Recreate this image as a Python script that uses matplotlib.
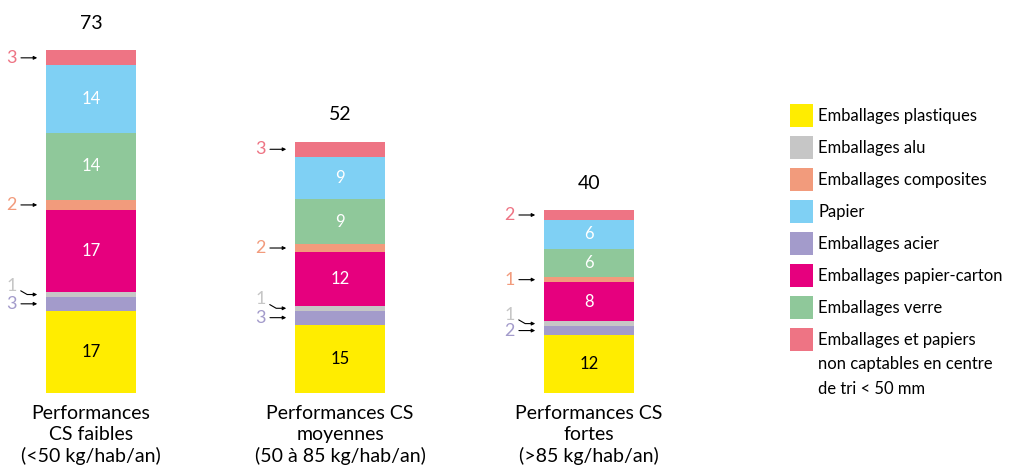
import matplotlib.pyplot as plt
from matplotlib.patches import Rectangle

plt.rcParams['font.family'] = ['Lato', 'DejaVu Sans']

categories = ['Performances\nCS faibles\n(<50 kg/hab/an)',
              'Performances CS\nmoyennes\n(50 à 85 kg/hab/an)',
              'Performances CS\nfortes\n(>85 kg/hab/an)']
totals = [73, 52, 40]

# stack order, bottom to top
materials = ['Emballages plastiques', 'Emballages acier', 'Emballages alu',
             'Emballages papier-carton', 'Emballages composites', 'Emballages verre',
             'Papier', 'Emballages et papiers\nnon captables en centre\nde tri < 50 mm']
colors = ['#FFED00', '#A39BCB', '#C6C6C6', '#E6007E', '#F29B7C', '#8FC89A',
          '#7FD0F4', '#EE7484']

# drawn heights (kg/hab/an) and the values printed on the chart
heights = [
    [17.5, 2.9, 1.07, 17.5, 2.13, 14.3, 14.4, 3.2],
    [14.5, 3.0, 1.0, 11.4, 1.9, 9.4, 9.1, 3.2],
    [12.3, 1.9, 1.07, 8.3, 1.07, 6.0, 6.2, 2.1],
]
shown = [
    [17, 3, 1, 17, 2, 14, 14, 3],
    [15, 3, 1, 12, 2, 9, 9, 3],
    [12, 2, 1, 8, 1, 6, 6, 2],
]

legend_order = [0, 2, 4, 6, 1, 3, 5, 7]
inside = [0, 3, 5, 6]      # labels drawn in the bar, the others go left with an arrow

fig = plt.figure(figsize=(10.19, 4.70), dpi=100)
ax = fig.add_axes([0, 77.3 / 470, 1, 375.2 / 470])
ax.set_xlim(-0.3655, -0.3655 + 1019 / 249)
ax.set_ylim(0, 80)
ax.axis('off')

width = 0.365
arrow = dict(arrowstyle='-|>', color='black', lw=0.8, mutation_scale=5, shrinkB=6)
xs = range(len(categories))
for b, x in enumerate(xs):
    bottom = 0
    for i, h in enumerate(heights[b]):
        ax.bar(x, h, width=width, bottom=bottom, color=colors[i], linewidth=0)
        mid = bottom + h / 2
        if i in inside:
            ax.text(x, mid, str(shown[b][i]), ha='center', va='center', fontsize=12,
                    color='black' if i == 0 else 'white')
        elif i == 2:
            ax.annotate(str(shown[b][i]), xy=(x - width / 2, mid),
                        xytext=(-34, 9), textcoords='offset pixels',
                        ha='center', va='center', fontsize=13, color=colors[i],
                        annotation_clip=False,
                        arrowprops=dict(arrow, shrinkA=1,
                                        connectionstyle='angle,angleA=-30,angleB=180,rad=0'))
        else:
            ax.annotate(str(shown[b][i]), xy=(x - width / 2, mid),
                        xytext=(-34, 0), textcoords='offset pixels',
                        ha='center', va='center', fontsize=13, color=colors[i],
                        annotation_clip=False, arrowprops=dict(arrow, shrinkA=1))
        bottom += h
    ax.annotate(str(totals[b]), xy=(x, bottom), xytext=(0, 27), textcoords='offset pixels',
                ha='center', va='center', fontsize=14, annotation_clip=False)
    ax.annotate(categories[b], xy=(x, 0), xytext=(0, -12), textcoords='offset pixels',
                ha='center', va='top', fontsize=14, linespacing=1.3, annotation_clip=False)

# legend
W, H = 1019, 470
for k, i in enumerate(legend_order):
    cy = 115.5 + 32 * k
    fig.patches.append(Rectangle((790 / W, 1 - (cy + 11.5) / H), 23 / W, 23 / H,
                                 transform=fig.transFigure, color=colors[i], linewidth=0))
    for j, line in enumerate(materials[i].split('\n')):
        fig.text(818 / W, 1 - (cy + 24.5 * j) / H, line, ha='left', va='center',
                 fontsize=12)

fig.savefig('out.png', dpi=100)
